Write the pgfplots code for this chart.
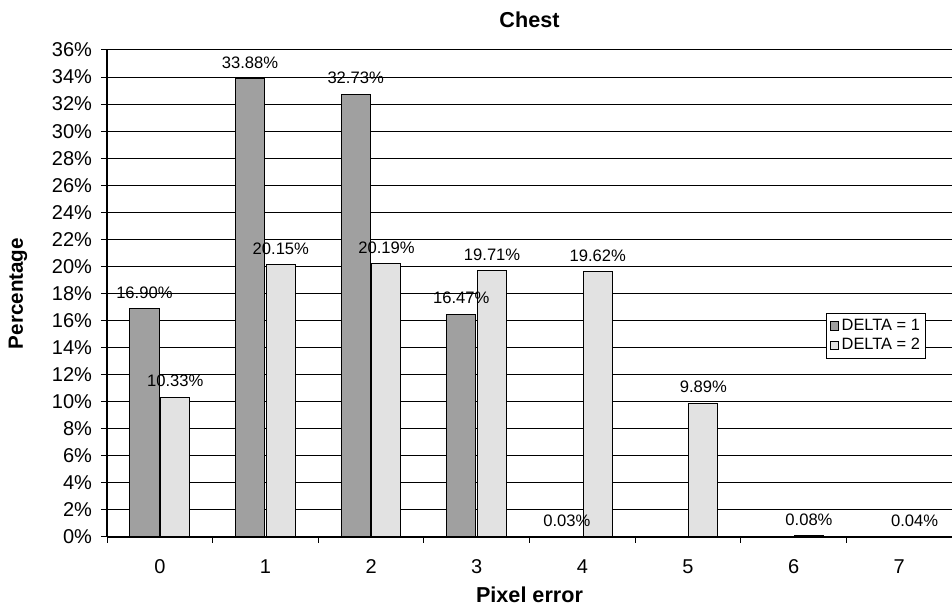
\documentclass[border=0pt]{standalone}
\usepackage{pgfplots}
\pgfplotsset{compat=1.18}
\usepackage{fontspec}
\setmainfont{Liberation Sans}
\definecolor{dark}{HTML}{A0A0A0}
\definecolor{light}{HTML}{E2E2E2}
\begin{document}
\begin{tikzpicture}
\begin{axis}[
  name=ax,
  scale only axis, width=422.5pt, height=243.5pt,
  xmin=-0.5, xmax=7.5, ymin=0, ymax=36,
  axis x line*=bottom, axis y line*=left,
  axis line style={black, line width=0.6pt},
  xtick={0,1,2,3,4,5,6,7},
  xticklabels={0,1,2,3,4,5,6,7},
  minor xtick={-0.5,0.5,1.5,2.5,3.5,4.5,5.5,6.5,7.5},
  major x tick style={draw=none},
  ytick={0,2,...,36},
  ymajorgrids, grid style={black, line width=0.5pt},
  tick align=outside, tick style={black, line width=0.5pt},
  major tick length=3pt, minor tick length=3pt,
  /pgf/number format/assume math mode=true,
  yticklabel={\pgfmathprintnumber{\tick}\%},
  ticklabel style={font=\fontsize{10}{12}\selectfont},
  yticklabel style={xshift=-1pt},
  xticklabel style={anchor=center, yshift=-12pt},
  title={Chest},
  title style={font=\bfseries\fontsize{10.8}{12}\selectfont, at={(0.5,1)}, anchor=base, yshift=5pt},
  xlabel={Pixel error},
  xlabel style={font=\bfseries\fontsize{10.8}{12}\selectfont, at={(axis description cs:0.5,0)}, anchor=center, yshift=-29pt},
  ylabel={Percentage},
  ylabel style={font=\bfseries\fontsize{10.3}{12}\selectfont, at={(axis description cs:0,0.5)}, anchor=center, yshift=44.5pt},
  legend style={at={(0.969,0.413)}, anchor=east, draw=black, line width=0.5pt,
    font=\fontsize{8.2}{9.5}\selectfont, inner sep=1.5pt, row sep=0pt, nodes={inner sep=1.2pt}},
  legend cell align=left,
  legend image code/.code={\draw[#1, line width=0.4pt] (0pt,-2.2pt) rectangle (4.4pt,2.2pt);},
  nodes near coords={\pgfmathprintnumber[fixed,fixed zerofill,precision=2]{\pgfplotspointmeta}\%},
  every node near coord/.append style={font=\fontsize{8.3}{10}\selectfont, anchor=south, yshift=1.5pt, black},
]
\addplot[ybar, bar width=0.275, bar shift=-0.145, fill=dark, draw=black, line width=0.5pt,
  every node near coord/.append style={xshift=-7.7pt}]
  coordinates {(0,16.90) (1,33.88) (2,32.73) (3,16.47) (4,0.03)};
\addlegendentry{DELTA = 1}
\addplot[ybar, bar width=0.275, bar shift=0.145, fill=light, draw=black, line width=0.5pt,
  every node near coord/.append style={xshift=7.7pt}]
  coordinates {(0,10.33) (1,20.15) (2,20.19) (3,19.71) (4,19.62) (5,9.89) (6,0.08) (7,0.04)};
\addlegendentry{DELTA = 2}
\end{axis}
\pgfresetboundingbox
\path ([xshift=-53.5pt,yshift=-35.5pt]ax.south west) rectangle ([yshift=25pt]ax.north east);
\end{tikzpicture}
\end{document}
